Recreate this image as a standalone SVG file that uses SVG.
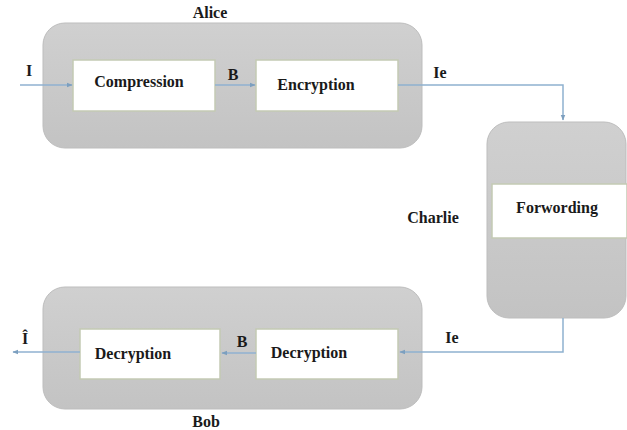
<svg xmlns="http://www.w3.org/2000/svg" width="627" height="430" viewBox="0 0 627 430">
<defs>
<linearGradient id="g" x1="0" y1="0" x2="0" y2="1">
<stop offset="0" stop-color="#d0d0d0"/>
<stop offset="1" stop-color="#c3c3c3"/>
</linearGradient>
<marker id="ah" viewBox="0 0 10 10" refX="9" refY="5" markerWidth="6" markerHeight="6" orient="auto" markerUnits="userSpaceOnUse">
<path d="M0,1 L10,5 L0,9 z" fill="#7c9fbf"/>
</marker>
<style>
.cont{fill:url(#g);stroke:#bdbdbd;stroke-width:1}
.box{fill:#ffffff;stroke:#c4cab4;stroke-width:1.5}
.t{font-family:"Liberation Serif","Times New Roman",serif;font-weight:bold;font-size:16px;fill:#1a1a1a}
.c{fill:none;stroke:#8fb1d0;stroke-width:1.5}
</style>
</defs>
<g id="alice">
<rect class="cont" x="43" y="23" width="379" height="125" rx="22" ry="22"/>
<text class="t" x="210" y="18" text-anchor="middle">Alice</text>
</g>
<g id="compression">
<rect class="box" x="73" y="60" width="142" height="51"/>
<text class="t" x="139" y="87" text-anchor="middle">Compression</text>
</g>
<g id="encryption">
<rect class="box" x="256" y="60" width="142" height="51"/>
<text class="t" x="316" y="90" text-anchor="middle">Encryption</text>
</g>
<g id="charlie">
<rect class="cont" x="487" y="122" width="139" height="196" rx="22" ry="22"/>
<text class="t" x="433" y="223" text-anchor="middle">Charlie</text>
</g>
<g id="forwording">
<rect class="box" x="492" y="184" width="135" height="54"/>
<text class="t" x="557" y="213" text-anchor="middle">Forwording</text>
</g>
<g id="bob">
<rect class="cont" x="43" y="287" width="379" height="122" rx="22" ry="22"/>
<text class="t" x="206" y="427" text-anchor="middle">Bob</text>
</g>
<g id="decryption1">
<rect class="box" x="80" y="329" width="140" height="50"/>
<text class="t" x="133" y="359" text-anchor="middle">Decryption</text>
</g>
<g id="decryption2">
<rect class="box" x="256" y="329" width="142" height="50"/>
<text class="t" x="309" y="358" text-anchor="middle">Decryption</text>
</g>
<g id="connectors">
<line class="c" x1="20" y1="85" x2="72" y2="85" marker-end="url(#ah)"/>
<line class="c" x1="215" y1="85" x2="255" y2="85" marker-end="url(#ah)"/>
<polyline class="c" points="398,85 563,85 563,120" marker-end="url(#ah)"/>
<polyline class="c" points="563,318 563,352 400,352" marker-end="url(#ah)"/>
<line class="c" x1="256" y1="353" x2="222" y2="353" marker-end="url(#ah)"/>
<line class="c" x1="80" y1="352" x2="13" y2="352" marker-end="url(#ah)"/>
<text class="t" x="29" y="76" text-anchor="middle">I</text>
<text class="t" x="233" y="80" text-anchor="middle">B</text>
<text class="t" x="440" y="78" text-anchor="middle">Ie</text>
<text class="t" x="452" y="343" text-anchor="middle">Ie</text>
<text class="t" x="242" y="347" text-anchor="middle">B</text>
<text class="t" x="25" y="344" text-anchor="middle">Î</text>
</g>
</svg>
